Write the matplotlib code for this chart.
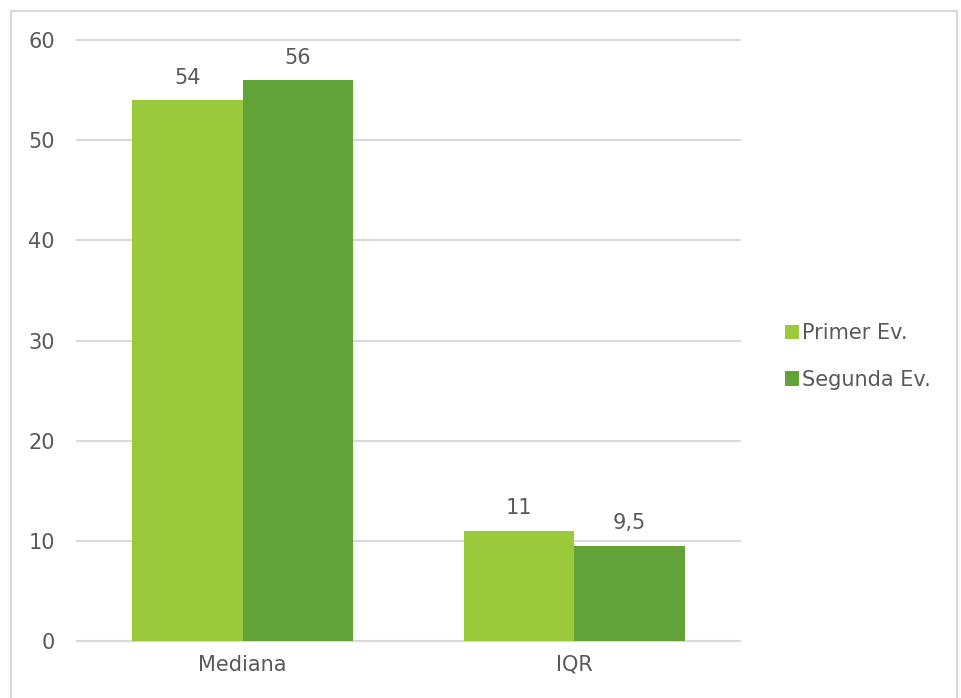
import matplotlib.pyplot as plt
import numpy as np
from matplotlib.patches import Rectangle

categories = ['Mediana', 'IQR']
series_names = ['Primer Ev.', 'Segunda Ev.']
primer = [54, 11]
segunda = [56, 9.5]
value_labels = [['54', '11'], ['56', '9,5']]

TEXT = '#595959'
GRID = '#D9D9D9'
COLORS = ['#9ACA3C', '#62A339']
FS = 15

plt.rcParams['font.family'] = ['DejaVu Sans']

fig = plt.figure(figsize=(9.62, 6.98), dpi=100)
ax = fig.add_axes([77 / 962, 57 / 698, 663 / 962, 601 / 698])

x = np.arange(len(categories))
width = 1 / 3
for i, (vals, name) in enumerate(zip([primer, segunda], series_names)):
    offs = (i - 0.5) * width
    bars = ax.bar(x + offs, vals, width, color=COLORS[i], label=name, zorder=3)
    for b, lab in zip(bars, value_labels[i]):
        ax.annotate(lab, (b.get_x() + b.get_width() / 2, b.get_height()),
                    xytext=(0, 9), textcoords='offset points',
                    ha='center', va='bottom', fontsize=FS, color=TEXT)

ax.set_xlim(-0.5, 1.5)
ax.set_ylim(0, 60)
ax.set_yticks(range(0, 61, 10))
ax.set_xticks(x)
ax.set_xticklabels(categories)
ax.yaxis.grid(True, color=GRID, linewidth=1.5, zorder=0)
for line in ax.get_ygridlines():
    line.set_clip_on(False)
ax.tick_params(axis='both', length=0, labelsize=FS, labelcolor=TEXT)
ax.tick_params(axis='y', pad=16)
ax.tick_params(axis='x', pad=10)
for side in ['top', 'right', 'left']:
    ax.spines[side].set_visible(False)
ax.spines['bottom'].set_color(GRID)
ax.spines['bottom'].set_linewidth(1.5)

ax.legend(loc='center left', bbox_to_anchor=(766 / 962, 0.489),
          bbox_transform=fig.transFigure, frameon=False, fontsize=FS,
          labelcolor=TEXT, handlelength=0.7, handleheight=0.7,
          handletextpad=0.15, labelspacing=1.28)

fig.patches.append(Rectangle((11 / 962, -0.05), 946 / 962, 1.05 - 11 / 698,
                             transform=fig.transFigure, fill=False,
                             edgecolor=GRID, linewidth=1.5))

fig.savefig('out.png', dpi=100)
